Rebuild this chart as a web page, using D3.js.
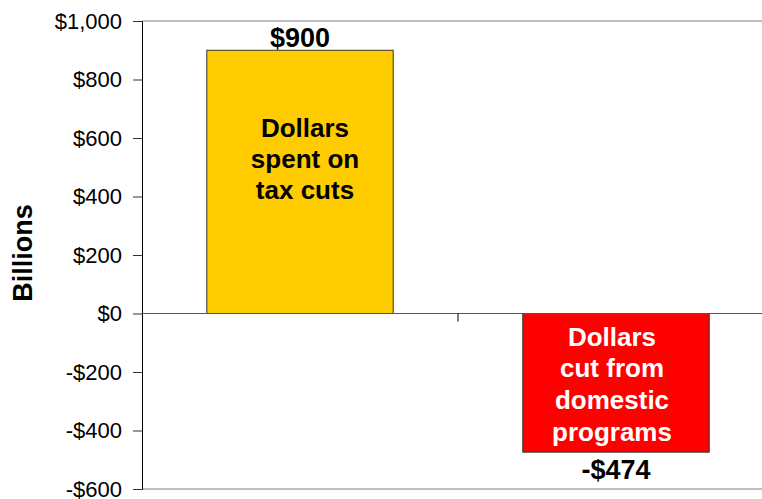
<!DOCTYPE html>
<html><head><meta charset="utf-8">
<script src="https://cdn.jsdelivr.net/npm/d3@7"></script>
<style>body{margin:0;background:#fff}svg{display:block}text{font-family:"Liberation Sans",Arial,sans-serif}</style>
</head><body><div id="c"></div>
<script>
const categories = ["tax", "domestic"];
const values = [900, -474];
const valueLabels = ["$900", "-$474"];
const barLines = [["Dollars", "spent on", "tax cuts"], ["Dollars", "cut from", "domestic", "programs"]];
const barColors = ["#FFCC00", "#FF0000"];
const textColors = ["#000000", "#FFFFFF"];
const yTicks = [-600, -400, -200, 0, 200, 400, 600, 800, 1000];
const yTickLabels = ["-$600", "-$400", "-$200", "$0", "$200", "$400", "$600", "$800", "$1,000"];

(function () {
const W = 762, H = 499;
const mLeft = 142, mTop = 21, mBottom = 489, plotRight = 774;
const svg = d3.select("#c").append("svg").attr("width", W).attr("height", H);

const y = d3.scaleLinear().domain([-600, 1000]).range([mBottom, mTop]);
const x = d3.scaleBand().domain(categories).range([mLeft, plotRight]).paddingInner(0.41).paddingOuter(0.205);

// frame lines top & bottom
svg.append("line").attr("x1", mLeft).attr("x2", W).attr("y1", y(1000)).attr("y2", y(1000)).attr("stroke", "#808080").attr("stroke-width", 1.2);
svg.append("line").attr("x1", mLeft).attr("x2", W).attr("y1", y(-600)).attr("y2", y(-600)).attr("stroke", "#808080").attr("stroke-width", 1.2);

// bars
svg.selectAll("rect.bar").data(values).join("rect")
  .attr("x", (d, i) => x(categories[i]))
  .attr("width", x.bandwidth())
  .attr("y", d => y(Math.max(0, d)))
  .attr("height", d => Math.abs(y(d) - y(0)))
  .attr("fill", (d, i) => barColors[i])
  .attr("stroke", "#333").attr("stroke-width", 1);

// zero line
svg.append("line").attr("x1", mLeft).attr("x2", W).attr("y1", y(0)).attr("y2", y(0)).attr("stroke", "#555").attr("stroke-width", 1.2);
// category divider tick
const step = x.step();
svg.append("line").attr("x1", mLeft + step).attr("x2", mLeft + step).attr("y1", y(0)).attr("y2", y(0) + 8).attr("stroke", "#000");

// y axis
const yAxis = d3.axisLeft(y).tickValues(yTicks).tickFormat((d, i) => yTickLabels[i]).tickSizeOuter(0).tickSize(9).tickPadding(11);
const ga = svg.append("g").attr("transform", `translate(${mLeft},0)`).call(yAxis);
ga.select(".domain").attr("stroke", "#000");
ga.selectAll("line").attr("stroke", "#333");
ga.selectAll("text").attr("font-size", 22).attr("fill", "#000").attr("font-family", "Liberation Sans, Arial, sans-serif");

// y title
svg.append("text").attr("transform", `translate(32,${253}) rotate(-90)`)
  .attr("text-anchor", "middle").attr("font-size", 27).attr("font-weight", "bold").text("Billions");

// value labels
svg.selectAll("text.val").data(values).join("text").attr("class", "val")
  .attr("x", (d, i) => x(categories[i]) + x.bandwidth() / 2)
  .attr("y", d => d >= 0 ? y(d) - 3 : y(d) + 27)
  .attr("text-anchor", "middle").attr("font-size", 27).attr("font-weight", "bold")
  .text((d, i) => valueLabels[i]);

// bar inner text
values.forEach((v, i) => {
  const cx = x(categories[i]) + x.bandwidth() / 2 + (i === 0 ? 5 : -4);
  const startY = v >= 0 ? y(v) + 87 : y(0) + 32;
  const lh = v >= 0 ? 31 : 31.7;
  barLines[i].forEach((t, j) => {
    svg.append("text").attr("x", cx).attr("y", startY + j * lh)
      .attr("text-anchor", "middle").attr("font-size", 26).attr("font-weight", "bold")
      .attr("fill", textColors[i]).text(t);
  });
});
})();
</script></body></html>
